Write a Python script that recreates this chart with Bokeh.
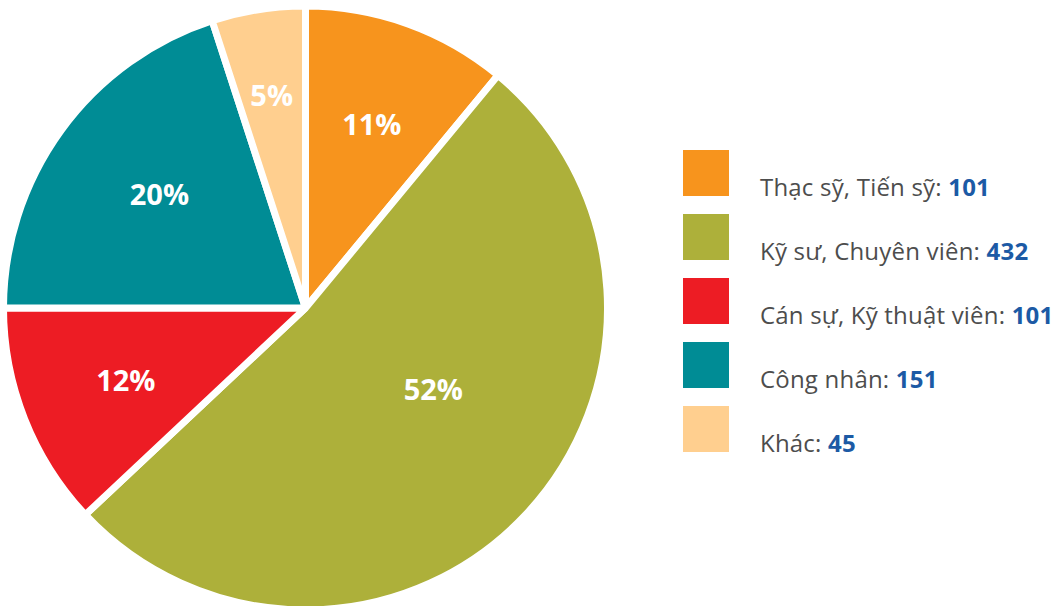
import math
from bokeh.plotting import figure
from bokeh.models import ColumnDataSource, Div
from bokeh.layouts import row
from bokeh.core.properties import value
from bokeh.embed import file_html
from bokeh.resources import INLINE

# ---- data ----
categories = ["Thạc sỹ, Tiến sỹ", "Kỹ sư, Chuyên viên", "Cán sự, Kỹ thuật viên", "Công nhân", "Khác"]
counts = [101, 432, 101, 151, 45]
percents = [11, 52, 12, 20, 5]
colors = ["#F7941D", "#ADB03A", "#ED1C24", "#008C95", "#FFCF8F"]

# ---- style ----
CX, CY, R = 305, 298.5, 302
label_r = [0.648, 0.50, 0.64, 0.614, 0.716]
label_da = [0, 11, 0, -2, 0]

total = float(sum(percents))
starts, ends, lx, ly, ltxt = [], [], [], [], []
cum = 0.0
for i, pct in enumerate(percents):
    a0 = math.pi / 2 - 2 * math.pi * cum / total
    cum += pct
    a1 = math.pi / 2 - 2 * math.pi * cum / total
    starts.append(a0)
    ends.append(a1)
    mid = (a0 + a1) / 2 + math.radians(label_da[i])
    lx.append(CX + R * label_r[i] * math.cos(mid))
    ly.append(CY + R * label_r[i] * math.sin(mid))
    ltxt.append(f"{pct}%")

src = ColumnDataSource(dict(start=starts, end=ends, color=colors, lx=lx, ly=ly, txt=ltxt))

p = figure(width=660, height=606, x_range=(0, 660), y_range=(0, 606),
           output_backend="svg", toolbar_location=None,
           x_axis_type=None, y_axis_type=None, min_border=0)
p.grid.visible = False
p.outline_line_color = None
p.background_fill_color = "white"
p.border_fill_color = "white"

p.wedge(x=CX, y=CY, radius=R, start_angle="start", end_angle="end", direction="clock",
        fill_color="color", line_color="white", line_width=7, source=src)
p.text(x="lx", y="ly", text="txt", source=src, text_color="white",
       text_font=value("Open Sans"), text_font_style="bold", text_font_size="29px",
       text_align="center", text_baseline="middle")

# ---- legend ----
items = []
for i, (cat, n, c) in enumerate(zip(categories, counts, colors)):
    top = 145 + 64 * i
    items.append(
        f'<div style="position:absolute;left:18px;top:{top}px;width:46px;height:46px;background:{c};"></div>'
        f'<div style="position:absolute;left:95px;top:{top + 25}px;height:24px;line-height:24px;'
        f'white-space:nowrap;font-family:\'Open Sans\';font-size:24px;letter-spacing:0.2px;color:#4D4D4D;">'
        f'{cat}: <span style="font-weight:700;color:#1C5AA5;">{n}</span></div>'
    )
html = '<div style="position:relative;width:396px;height:601px;">' + "".join(items) + "</div>"
legend = Div(text=html, width=391, height=596)

layout = row(p, legend)
open("out.html", "w").write(file_html(layout, INLINE))
